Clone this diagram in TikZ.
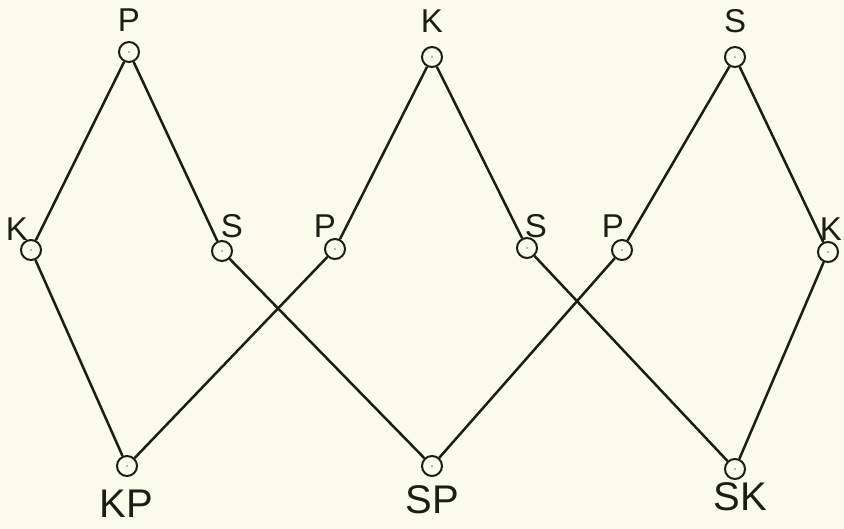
\documentclass[tikz,border=0pt]{standalone}
\usepackage{fontspec}
\setmainfont{Liberation Sans}
\definecolor{paper}{HTML}{FBFBEC}
\definecolor{ink}{HTML}{1A1F15}
\begin{document}
\begin{tikzpicture}[x=1pt,y=-1pt,
  vert/.style={draw=ink,circle,line width=2pt,minimum size=20pt,inner sep=0pt,fill=paper},
  edge/.style={draw=ink,line width=2.5pt},
  lbl/.style={text=ink,font=\fontsize{33}{35}\selectfont,inner sep=0pt},
  big/.style={text=ink,font=\fontsize{40}{42}\selectfont,inner sep=0pt}]
\fill[paper] (0,0) rectangle (844,529);
\useasboundingbox (0,0) rectangle (844,529);
\node[vert] (p1) at (129,52) {};
\node[vert] (k1) at (31,250) {};
\node[vert] (s1) at (222,251) {};
\node[vert] (p2) at (335,249) {};
\node[vert] (k2) at (432,57) {};
\node[vert] (s2) at (527,248) {};
\node[vert] (p3) at (622,250) {};
\node[vert] (s3) at (735,57) {};
\node[vert] (k3) at (828,252) {};
\node[vert] (kp) at (127,466) {};
\node[vert] (sp) at (432,466) {};
\node[vert] (sk) at (735,469) {};
\draw[edge] (p1) -- (k1);
\draw[edge] (p1) -- (s1);
\draw[edge] (k1) -- (kp);
\draw[edge] (s1) -- (sp);
\draw[edge] (p2) -- (kp);
\draw[edge] (k2) -- (p2);
\draw[edge] (k2) -- (s2);
\draw[edge] (s2) -- (sk);
\draw[edge] (p3) -- (sp);
\draw[edge] (s3) -- (p3);
\draw[edge] (s3) -- (k3);
\draw[edge] (k3) -- (sk);
\foreach \n in {p1,k1,s1,p2,k2,s2,p3,s3,k3,kp,sp,sk}{\fill[ink!60] (\n.center) circle (0.9pt);}
\node[lbl] (lp1) at (129,20) {P};
\node[lbl] (lk1) at (17,229) {K};
\node[lbl] (ls1) at (232,226) {S};
\node[lbl] (lp2) at (325,226) {P};
\node[lbl] (lk2) at (432,21) {K};
\node[lbl] (ls2) at (536,226) {S};
\node[lbl] (lp3) at (613,226) {P};
\node[lbl] (ls3) at (735,21) {S};
\node[lbl,anchor=east] (lk3) at (842,229) {K};
\node[big] (lkp) at (126,504) {KP};
\node[big] (lsp) at (432,500) {SP};
\node[big] (lsk) at (740,497) {SK};
\end{tikzpicture}
\end{document}
